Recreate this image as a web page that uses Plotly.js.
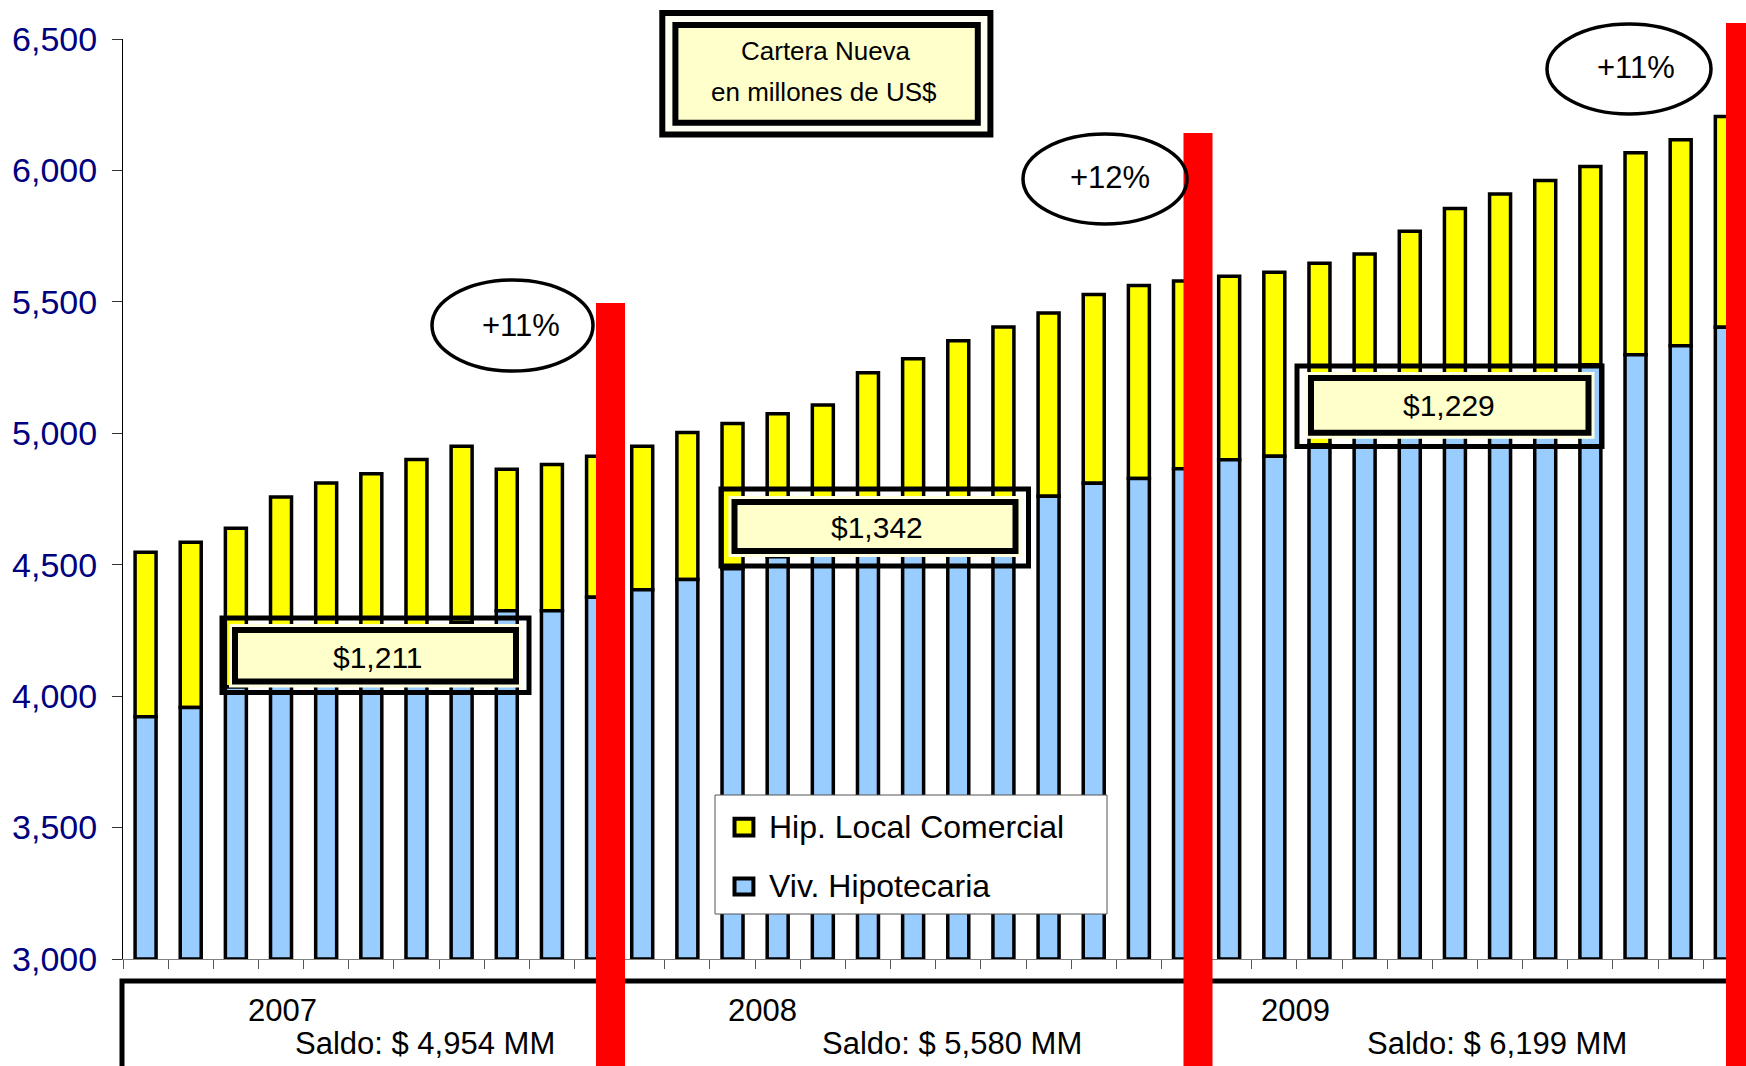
<!DOCTYPE html>
<html><head><meta charset="utf-8">
<script src="https://cdn.plot.ly/plotly-3.0.1.min.js"></script>
<style>html,body{margin:0;padding:0;background:#fff;} #chart{width:1746px;height:1066px;}</style>
</head><body><div id="chart"></div>
<script>
// ---- data ----
const meses = ["Ene 07","Feb 07","Mar 07","Abr 07","May 07","Jun 07","Jul 07","Ago 07","Sep 07","Oct 07","Nov 07","Dic 07",
               "Ene 08","Feb 08","Mar 08","Abr 08","May 08","Jun 08","Jul 08","Ago 08","Sep 08","Oct 08","Nov 08","Dic 08",
               "Ene 09","Feb 09","Mar 09","Abr 09","May 09","Jun 09","Jul 09","Ago 09","Sep 09","Oct 09","Nov 09","Dic 09"];
const vivHipotecaria = [3922,3957,4035,4080,4130,4185,4230,4280,4325,4325,4376,4405,
                        4444,4485,4530,4570,4615,4655,4690,4730,4760,4810,4828,4865,
                        4899,4913,4955,4995,5040,5090,5140,5190,5260,5299,5333,5403];
const hipLocalComercial = [625,628,604,678,681,661,670,671,538,556,537,546,
                           559,552,544,538,615,629,662,674,698,718,734,714,
                           698,700,692,687,729,765,770,772,755,768,784,802];
const yTicks = [3000,3500,4000,4500,5000,5500,6000,6500];
const anios = ["2007","2008","2009"];
const saldos = ["Saldo: $ 4,954 MM","Saldo: $ 5,580 MM","Saldo: $ 6,199 MM"];
const crecimientos = ["+11%","+12%","+11%"];
const montos = ["$1,211","$1,342","$1,229"];
const tituloLineas = ["Cartera Nueva","en millones de US$"];
const nombres = ["Hip. Local Comercial","Viv. Hipotecaria"];
const colores = ["#FFFF00","#99CCFF"];
const BASE = 3000;

// ---- geometry helpers (pixels -> paper) ----
const W=1746,H=1066,ML=123,MR=0,MT=39,MB=107;
const PW=W-ML-MR, PH=H-MT-MB;
const CAT=45.15;
const px = x => (x-ML)/PW;
const py = y => (H-MB-y)/PH;
const FONT = "Liberation Sans, Arial, sans-serif";

function rect(x0,y0,x1,y1,o){
  return Object.assign({type:'rect',xref:'paper',yref:'paper',layer:'above',
    x0:px(x0),x1:px(x1),y0:py(y1),y1:py(y0)},o);
}
function ell(x0,y0,x1,y1){
  return {type:'circle',xref:'paper',yref:'paper',layer:'above',
    x0:px(x0),x1:px(x1),y0:py(y1),y1:py(y0),line:{color:'#000',width:3.5},fillcolor:'rgba(0,0,0,0)'};
}
function txt(t,x,y,size,anchor){
  return {text:t,xref:'paper',yref:'paper',x:px(x),y:py(y),xanchor:anchor||'center',yanchor:'middle',
    showarrow:false,font:{family:FONT,size:size,color:'#000'}};
}

const traces = [
  {type:'bar',name:nombres[0],x:meses,y:hipLocalComercial,base:vivHipotecaria,showlegend:false,
   marker:{color:colores[0],line:{color:'#000',width:3.5}},hoverinfo:'skip'},
  {type:'bar',name:nombres[1],x:meses,y:vivHipotecaria.map(v=>v-BASE),base:BASE,showlegend:false,
   marker:{color:colores[1],line:{color:'#000',width:3.5}},hoverinfo:'skip'}
];

const outerBoxes=[[222,618,529,692.5],[721,489,1028.5,566],[1297,366,1602,446.5]];
const innerBoxes=[[235,630,516,681.5],[734.5,502,1015.5,551],[1311,378,1588.5,432.7]];
const shapes=[];
shapes.push(rect(122,981,1765,1095,{line:{color:'#000',width:5},fillcolor:'#fff'}));
outerBoxes.forEach(b=>shapes.push(rect(b[0],b[1],b[2],b[3],{line:{color:'#000',width:5},fillcolor:'rgba(0,0,0,0)'})));
innerBoxes.forEach(b=>shapes.push(rect(b[0]-6,b[1]-6,b[2]+6,b[3]+6,{line:{width:0},fillcolor:'#FFFFE0'})));
innerBoxes.forEach(b=>shapes.push(rect(b[0],b[1],b[2],b[3],{line:{color:'#000',width:6},fillcolor:'#FFFFCC'})));
shapes.push(rect(662.3,13,990.4,134.5,{line:{color:'#000',width:6},fillcolor:'#FFFFF2'}));
shapes.push(rect(675.4,25.1,977.8,122.7,{line:{color:'#000',width:6},fillcolor:'#FFFFCC'}));
[[596,303,625],[1183.5,133,1212.5],[1726,23,1765]].forEach(r=>shapes.push(rect(r[0],r[1],r[2],1080,{line:{width:0},fillcolor:'#FF0000'})));
shapes.push(ell(432,280,593,371));
shapes.push(ell(1023,134,1187,224));
shapes.push(ell(1547,24,1711,114));
// legend (drawn as a key box)
shapes.push(rect(715,795,1107,914,{line:{color:'#555',width:1},fillcolor:'#fff'}));
shapes.push(rect(734.5,818.8,753.4,835.6,{line:{color:'#000',width:4},fillcolor:colores[0]}));
shapes.push(rect(734.5,878.5,753.4,894.6,{line:{color:'#000',width:4},fillcolor:colores[1]}));

const ann=[];
[[377.6,657.4],[876.8,527.8],[1449,405.3]].forEach((p,i)=>ann.push(txt(montos[i],p[0],p[1],30)));
[[521,325],[1110,178],[1636,68]].forEach((p,i)=>ann.push(txt(crecimientos[i],p[0],p[1],31)));
ann.push(txt(tituloLineas[0],826,51,26));
ann.push(txt(tituloLineas[1],824,92,26));
[282.7,762,1295.5].forEach((x,i)=>ann.push(txt(anios[i],x,1010,31)));
[425,952,1496.7].forEach((x,i)=>ann.push(txt(saldos[i],x,1043,31)));
ann.push(txt(nombres[0],767,827,32,'left'));
ann.push(txt(nombres[1],767,886,32,'left'));

const layout = {
  width:W,height:H,margin:{l:ML,r:MR,t:MT,b:MB,autoexpand:false},
  paper_bgcolor:'#fff',plot_bgcolor:'#fff',
  barmode:'overlay',bargap:0.535,
  font:{family:FONT},
  xaxis:{type:'category',range:[-0.5,-0.5+PW/CAT],showticklabels:false,ticks:'outside',tickson:'boundaries',
         ticklen:9,tickcolor:'#555',showline:true,linecolor:'#808080',linewidth:1,showgrid:false,zeroline:false,fixedrange:true},
  yaxis:{range:[3000,6500],tickvals:yTicks,tickformat:',',ticks:'outside',ticklen:10,tickcolor:'#333',
         ticklabelstandoff:8,
         showline:true,linecolor:'#000',linewidth:1,showgrid:false,zeroline:false,fixedrange:true,
         tickfont:{family:FONT,size:34,color:'#000080'}},
  showlegend:false,
  shapes:shapes,annotations:ann
};
Plotly.newPlot('chart',traces,layout,{displayModeBar:false,staticPlot:true});
</script></body></html>
